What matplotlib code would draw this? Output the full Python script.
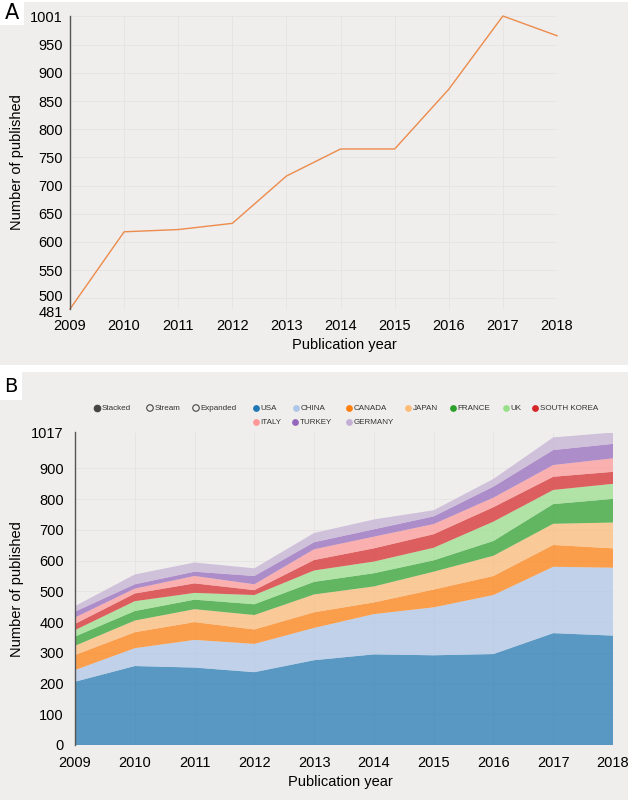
import matplotlib.pyplot as plt
import matplotlib.transforms as mtransforms
from matplotlib.patches import Rectangle

plt.rcParams['font.family'] = ['Liberation Sans', 'DejaVu Sans']

years = list(range(2009, 2019))
published = [481, 618, 622, 633, 717, 765, 765, 871, 1001, 966]

countries = ['USA', 'CHINA', 'CANADA', 'JAPAN', 'FRANCE', 'UK', 'SOUTH KOREA',
             'ITALY', 'TURKEY', 'GERMANY']
usa = [206, 257, 252, 237, 276, 295, 292, 296, 364, 356]
china = [38, 58, 90, 92, 105, 131, 156, 192, 216, 221]
canada = [49, 52, 58, 47, 51, 38, 58, 62, 71, 63]
japan = [30, 38, 42, 47, 58, 52, 58, 66, 69, 84]
france = [30, 31, 31, 35, 41, 43, 37, 48, 64, 77]
uk = [21, 32, 22, 30, 37, 38, 41, 63, 46, 49]
south_korea = [20, 25, 31, 16, 34, 43, 44, 47, 43, 39]
italy = [21, 16, 24, 19, 35, 38, 33, 31, 38, 44]
turkey = [19, 14, 14, 27, 23, 24, 25, 36, 49, 47]
germany = [18, 32, 30, 25, 30, 32, 20, 25, 41, 37]
series = [usa, china, canada, japan, france, uk, south_korea, italy, turkey, germany]

colors = ['#1f77b4', '#aec7e8', '#ff7f0e', '#ffbb78', '#2ca02c',
          '#98df8a', '#d62728', '#ff9896', '#9467bd', '#c5b0d5']

a_ticks = [481, 500, 550, 600, 650, 700, 750, 800, 850, 900, 950, 1001]
b_ticks = [0, 100, 200, 300, 400, 500, 600, 700, 800, 900, 1017]

bg_grey = '#efeeec'
grid_c = '#e6e5e3'
W, H = 628., 800.

fig = plt.figure(figsize=(6.28, 8), dpi=100, facecolor='w')

# background layer in pixel coords (y downwards)
bg = fig.add_axes([0, 0, 1, 1], zorder=0)
bg.set_xlim(0, W)
bg.set_ylim(H, 0)
bg.axis('off')
bg.add_patch(Rectangle((0, 2), W, 363, color=bg_grey, lw=0))
bg.add_patch(Rectangle((0, 372), W, 428, color=bg_grey, lw=0))
bg.add_patch(Rectangle((0, 0), 24, 25, color='w', lw=0))
bg.add_patch(Rectangle((0, 372), 22, 28, color='w', lw=0))
bg.text(12, 13, 'A', fontsize=15, ha='center', va='center', family='DejaVu Sans')
bg.text(11, 387, 'B', fontsize=14, ha='center', va='center', family='DejaVu Sans')


def style_axis(ax):
    ax.set_facecolor('none')
    for s in ['top', 'right', 'bottom']:
        ax.spines[s].set_visible(False)
    ax.spines['left'].set_color('#555555')
    ax.spines['left'].set_linewidth(1.0)
    ax.grid(True, color=grid_c, lw=0.7)
    ax.set_axisbelow(True)
    ax.tick_params(length=0, labelsize=10.5)
    ax.set_xticks(years)
    ax.set_xlim(years[0], years[-1])


# panel A
axA = fig.add_axes([70 / W, 1 - 309 / H, 487 / W, 293 / H], zorder=1)
style_axis(axA)
axA.plot(years, published, color='#ec8b4c', lw=1.0, clip_on=False)
axA.set_ylim(481, 1001)
axA.set_yticks(a_ticks)
axA.tick_params(axis='x', pad=7)
axA.tick_params(axis='y', pad=5)
axA.set_xlabel('Publication year', fontsize=10.5)
axA.set_ylabel('Number of published', fontsize=10.5)
axA.xaxis.set_label_coords((344 - 70) / 487, -0.1)
axA.yaxis.set_label_coords((24 - 70) / 487, 0.5)

# the min label sits right under 500, nudge the two apart a little
ylabs = axA.get_yticklabels()
ylabs[0].set_transform(ylabs[0].get_transform() +
                       mtransforms.ScaledTranslation(0, -2 / 72, fig.dpi_scale_trans))
ylabs[1].set_transform(ylabs[1].get_transform() +
                       mtransforms.ScaledTranslation(0, 2 / 72, fig.dpi_scale_trans))

# panel B
axB = fig.add_axes([75 / W, 1 - 745 / H, 538 / W, 312.5 / H], zorder=1)
style_axis(axB)
axB.stackplot(years, *series, colors=colors, alpha=0.72, lw=0)
axB.set_ylim(0, 1017)
axB.set_yticks(b_ticks)
axB.tick_params(axis='x', pad=8)
axB.tick_params(axis='y', pad=8)
axB.set_xlabel('Publication year', fontsize=10.5)
axB.set_ylabel('Number of published', fontsize=10.5)
axB.xaxis.set_label_coords((340 - 75) / 538, -0.095)
axB.yaxis.set_label_coords((24 - 75) / 538, 0.5)

# nvd3-style controls and legend
fs = 5.8
controls = [('Stacked', 97, True), ('Stream', 150, False), ('Expanded', 196, False)]
for name, x, filled in controls:
    bg.scatter([x], [408], s=22, facecolor='#444444' if filled else 'none',
               edgecolor='#444444', lw=0.8, zorder=3)
    bg.text(x + 4.5, 408, name, fontsize=fs, va='center', color='#333333')

legend_x = [256, 296, 349, 408, 453, 506, 535, 256, 295, 349]
legend_y = [408] * 7 + [422] * 3
for name, c, x, y in zip(countries, colors, legend_x, legend_y):
    bg.scatter([x], [y], s=24, color=c, lw=0, zorder=3)
    bg.text(x + 4.5, y, name, fontsize=fs, va='center', color='#333333')

fig.savefig('out.png', dpi=100, facecolor=fig.get_facecolor())
